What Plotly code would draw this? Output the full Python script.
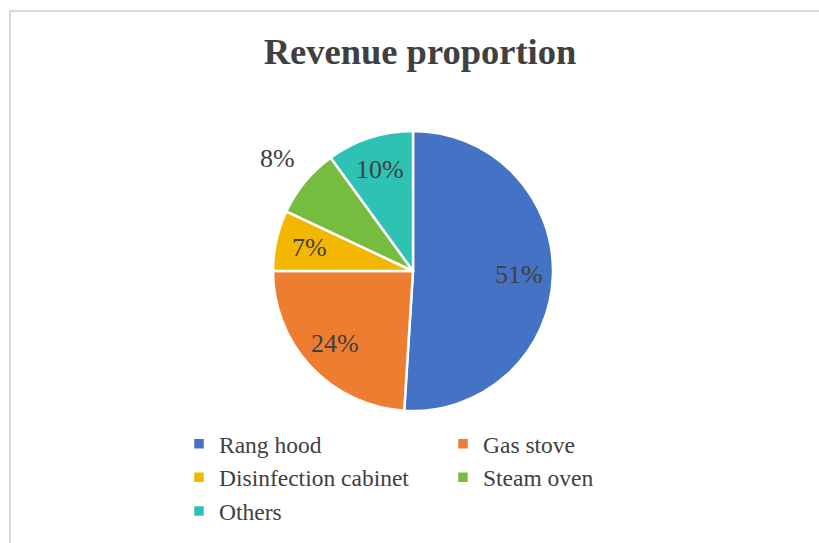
import math
import plotly.graph_objects as go

# Revenue share by product line (percent)
categories = ["Rang hood", "Gas stove", "Disinfection cabinet", "Steam oven", "Others"]
shares = [51, 24, 7, 8, 10]
colors = ["#4472C4", "#ED7D31", "#F2B800", "#75BC3F", "#2EC2B4"]
label_outside = [False, False, False, True, False]

W, H = 819, 543
# right margin narrows the plot area so the legend wraps into two columns
ML, MR = 0, 200
PW = W - ML - MR
SERIF = "Liberation Serif, Times New Roman, serif"
TEXT = "#404040"

# pie geometry in pixels
CX, CY, R = 413, 271, 140
INSIDE_FRAC, OUTSIDE_FRAC = 0.76, 1.26


def px_x(x):
    return (x - ML) / PW


def px_y(y):
    return 1 - y / H


fig = go.Figure(
    go.Pie(
        labels=categories,
        values=shares,
        sort=False,
        direction="clockwise",
        rotation=0,
        marker=dict(colors=colors, line=dict(color="white", width=2.5)),
        textinfo="none",
        domain=dict(x=[px_x(CX - R), px_x(CX + R)], y=[px_y(CY + R), px_y(CY - R)]),
        hoverinfo="label+percent",
    )
)

# percentage labels placed along each slice's mid-angle
total = sum(shares)
annotations = []
cum = 0.0
for value, outside in zip(shares, label_outside):
    mid = (cum + value / 2) / total * 2 * math.pi
    cum += value
    r = R * (OUTSIDE_FRAC if outside else INSIDE_FRAC)
    x = CX + r * math.sin(mid)
    y = CY - r * math.cos(mid)
    annotations.append(
        dict(
            x=px_x(x),
            y=px_y(y),
            xref="paper",
            yref="paper",
            text=f"{value}%",
            showarrow=False,
            xanchor="center",
            yanchor="middle",
            font=dict(family=SERIF, size=26, color=TEXT),
        )
    )

fig.update_layout(
    width=W,
    height=H,
    margin=dict(l=ML, r=MR, t=0, b=0, autoexpand=False),
    paper_bgcolor="white",
    plot_bgcolor="white",
    title=dict(
        text="<b>Revenue proportion</b>",
        font=dict(family=SERIF, size=36.5, color=TEXT),
        x=420 / W,
        xanchor="center",
        y=1 - 51 / H,
        yanchor="middle",
    ),
    legend=dict(
        orientation="h",
        x=px_x(179),
        xanchor="left",
        y=px_y(422),
        yanchor="top",
        entrywidth=219,
        entrywidthmode="pixels",
        font=dict(family=SERIF, size=23.5, color=TEXT),
        traceorder="normal",
        bgcolor="rgba(0,0,0,0)",
    ),
    annotations=annotations,
    shapes=[
        dict(
            type="rect",
            xref="paper",
            yref="paper",
            x0=px_x(10),
            x1=px_x(W + 20),
            y0=px_y(H + 20),
            y1=px_y(11),
            line=dict(color="#D9D9D9", width=2),
            fillcolor="rgba(0,0,0,0)",
            layer="below",
        )
    ],
)

fig.write_html("out.html")
